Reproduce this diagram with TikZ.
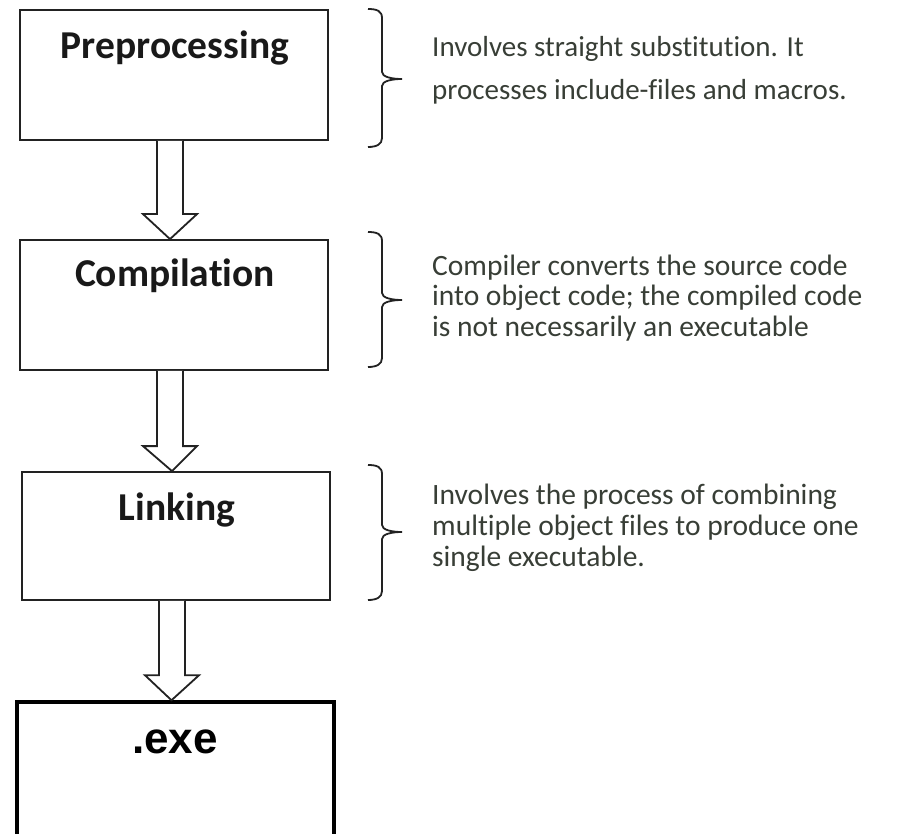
\documentclass[tikz,border=0pt]{standalone}
\usepackage{fontspec}
\setmainfont{Carlito}[Ligatures={NoCommon,NoDiscretionary}]
\newfontfamily\exefont{Liberation Sans}
\usetikzlibrary{calc}
\definecolor{inkline}{HTML}{222222}
\definecolor{notetext}{HTML}{383E36}
\begin{document}
\begin{tikzpicture}[x=1pt,y=-1pt,
  stagebox/.style={draw=inkline,line width=1.8pt,fill=none,inner sep=0pt},
  exebox/.style={draw=black,line width=3.5pt,inner sep=0pt},
  stagelabel/.style={font=\fontsize{39.5}{44}\selectfont\bfseries,text=black!90,inner sep=0pt,anchor=center},
  note/.style={font=\fontsize{29.5}{31}\selectfont,text=notetext,align=left,anchor=base west,inner sep=0pt},
  blockarrow/.style={draw=inkline,line width=1.8pt,fill=white,line join=miter},
  curly/.style={draw=inkline,line width=1.8pt}
]
% canvas
\path[fill=white] (0,0) rectangle (905,834);
\useasboundingbox (0,0) rectangle (905,834);

% stage boxes
\node[stagebox,minimum width=308pt,minimum height=130pt] (pre)  at (174,75)  {};
\node[stagebox,minimum width=308pt,minimum height=130pt] (comp) at (174,305) {};
\node[stagebox,minimum width=308pt,minimum height=128pt] (link) at (176,536) {};
\node[exebox,minimum width=317pt,minimum height=160pt] (exe) at (175.5,782) {};

% box titles
\node[stagelabel] (prelbl)  at (175,48)  {Preprocessing};
\node[stagelabel] (complbl) at (175,276) {Compilation};
\node[stagelabel] (linklbl) at (177,510) {Linking};
\node[inner sep=0pt] (exelbl) at (175,742) {\exefont\fontsize{44}{48}\selectfont\bfseries .exe};

% hollow block arrows between stages
\newcommand\stagearrow[2]{%
  \draw[blockarrow] let \p1=($(#1.south)+(-4pt,0)$), \p2=($(#2.north)+(-4pt,0)$) in
    (\x1-13pt,\y1) -- (\x1-13pt,\y2+25pt) -- (\x1-27pt,\y2+25pt) -- (\x2,\y2)
    -- (\x1+27pt,\y2+25pt) -- (\x1+13pt,\y2+25pt) -- (\x1+13pt,\y1);}
\stagearrow{pre}{comp}
\stagearrow{comp}{link}
\stagearrow{link}{exe}

% right curly braces: top, tip, bottom
\newcommand\rightcurly[3]{%
  \draw[curly] (368,#1) .. controls (377,#1) and (382,#1+2) .. (382,#1+9)
    -- (382,#2-7) .. controls (382,#2-2) and (392,#2) .. (402,#2)
    .. controls (392,#2) and (382,#2+2) .. (382,#2+7)
    -- (382,#3-9) .. controls (382,#3-3) and (377,#3) .. (368,#3);}
\rightcurly{9}{79}{147}
\rightcurly{232}{300}{367}
\rightcurly{465}{532}{600}

% descriptions (node base = baseline of the last line)
\node[note,font=\fontsize{29}{43}\selectfont] (prenote) at (432,100)
  {Involves straight substitution. It\\processes include-files and macros.};
\node[note] (compnote) at (432,337)
  {Compiler converts the source code\\into object code; the compiled code\\is not necessarily an executable};
\node[note] (linknote) at (432,566)
  {Involves the process of combining\\multiple object files to produce one\\single executable.};
\end{tikzpicture}
\end{document}
